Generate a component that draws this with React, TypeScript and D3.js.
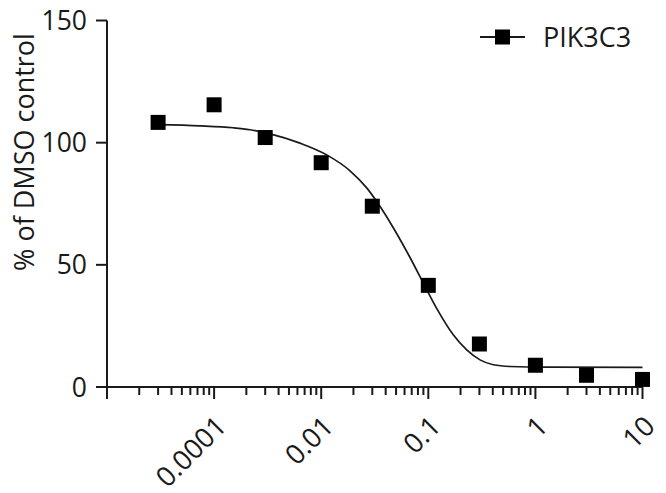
import * as d3 from "d3";

// dose-response readout
const concentrations = [0.0003, 0.001, 0.003, 0.01, 0.03, 0.1, 0.3, 1, 3, 10];
const responses = [108.3, 115.5, 102.1, 91.8, 74.0, 41.6, 17.6, 8.9, 4.8, 3.1];

// fitted curve, sampled from the figure
const curveConc = [
  0.000302, 0.000741, 0.00151, 0.00216, 0.00333, 0.00634, 0.01125, 0.01858, 0.0266,
  0.0341, 0.0471, 0.0675, 0.0897, 0.1197, 0.171, 0.2286, 0.304, 0.4046, 0.579, 1.37, 10,
];
const curveVal = [
  107.4, 106.9, 106.1, 105.3, 103.6, 99.8, 95.0, 88.5, 81.5,
  75.0, 65.2, 53.0, 42.6, 32.2, 21.4, 15.2, 11.1, 9.1, 8.4, 8.1, 8.0,
];

const xMajorTicks = [0.0001, 0.001, 0.01, 0.1, 1, 10];
const xTickLabels = ["", "0.0001", "0.01", "0.1", "1", "10"];
const yTicks = [0, 50, 100, 150];
const seriesName = "PIK3C3";

const W = 666;
const H = 493;
const FONT = "'Open Sans', 'DejaVu Sans', sans-serif";
const INK = "#1a1a1a";

export default function App() {
  const x = d3.scaleLog().domain([1e-4, 10]).range([107, 642.5]);
  const y = d3.scaleLinear().domain([0, 150]).range([387, 20.5]);
  const y0 = y(0);

  // minor ticks 2..9 in each decade
  const minorTicks: number[] = [];
  for (let d = -4; d < 1; d++) {
    for (let k = 2; k <= 9; k++) minorTicks.push(k * Math.pow(10, d));
  }

  const pts = curveConc.map((c, i) => [x(c), y(curveVal[i])] as [number, number]);
  const line = d3.line().curve(d3.curveMonotoneX)(pts) || "";

  const sq = 15;

  return (
    <svg
      width={W}
      height={H}
      style={{ position: "absolute", left: 0, top: 0, background: "#fff" }}
      fontFamily={FONT}
    >
      {/* y axis */}
      <line x1={x(1e-4)} x2={x(1e-4)} y1={y(150)} y2={y0} stroke={INK} strokeWidth={2} />
      {yTicks.map((t) => (
        <g key={t}>
          <line x1={x(1e-4) - 11} x2={x(1e-4)} y1={y(t)} y2={y(t)} stroke={INK} strokeWidth={2} />
          <text
            x={x(1e-4) - 20}
            y={y(t)}
            dy="0.36em"
            textAnchor="end"
            fontSize={26.5}
            fill={INK}
          >
            {t}
          </text>
        </g>
      ))}
      <text
        transform={`translate(34,152) rotate(-90)`}
        textAnchor="middle"
        fontSize={27}
        fill={INK}
      >
        % of DMSO control
      </text>

      {/* x axis */}
      <line x1={x(1e-4)} x2={x(10)} y1={y0} y2={y0} stroke={INK} strokeWidth={2} />
      {minorTicks.map((t) => (
        <line key={t} x1={x(t)} x2={x(t)} y1={y0} y2={y0 + 8} stroke={INK} strokeWidth={2} />
      ))}
      {xMajorTicks.map((t, i) => (
        <g key={t}>
          <line x1={x(t)} x2={x(t)} y1={y0} y2={y0 + 12} stroke={INK} strokeWidth={2} />
          <text
            transform={`translate(${x(t) + 14},${y0 + 41}) rotate(-45)`}
            textAnchor="end"
            fontSize={27.5}
            fill={INK}
          >
            {xTickLabels[i]}
          </text>
        </g>
      ))}

      {/* fitted curve */}
      <path d={line} fill="none" stroke={INK} strokeWidth={1.7} />

      {/* data points */}
      {concentrations.map((c, i) => (
        <rect
          key={c}
          x={x(c) - sq / 2}
          y={y(responses[i]) - sq / 2}
          width={sq}
          height={sq}
          fill="#000"
        />
      ))}

      {/* legend */}
      <line x1={480} x2={525} y1={37} y2={37} stroke={INK} strokeWidth={2} />
      <rect x={502.5 - sq / 2} y={37 - sq / 2} width={sq} height={sq} fill="#000" />
      <text x={543} y={37} dy="0.36em" fontSize={27} fill={INK}>
        {seriesName}
      </text>
    </svg>
  );
}
